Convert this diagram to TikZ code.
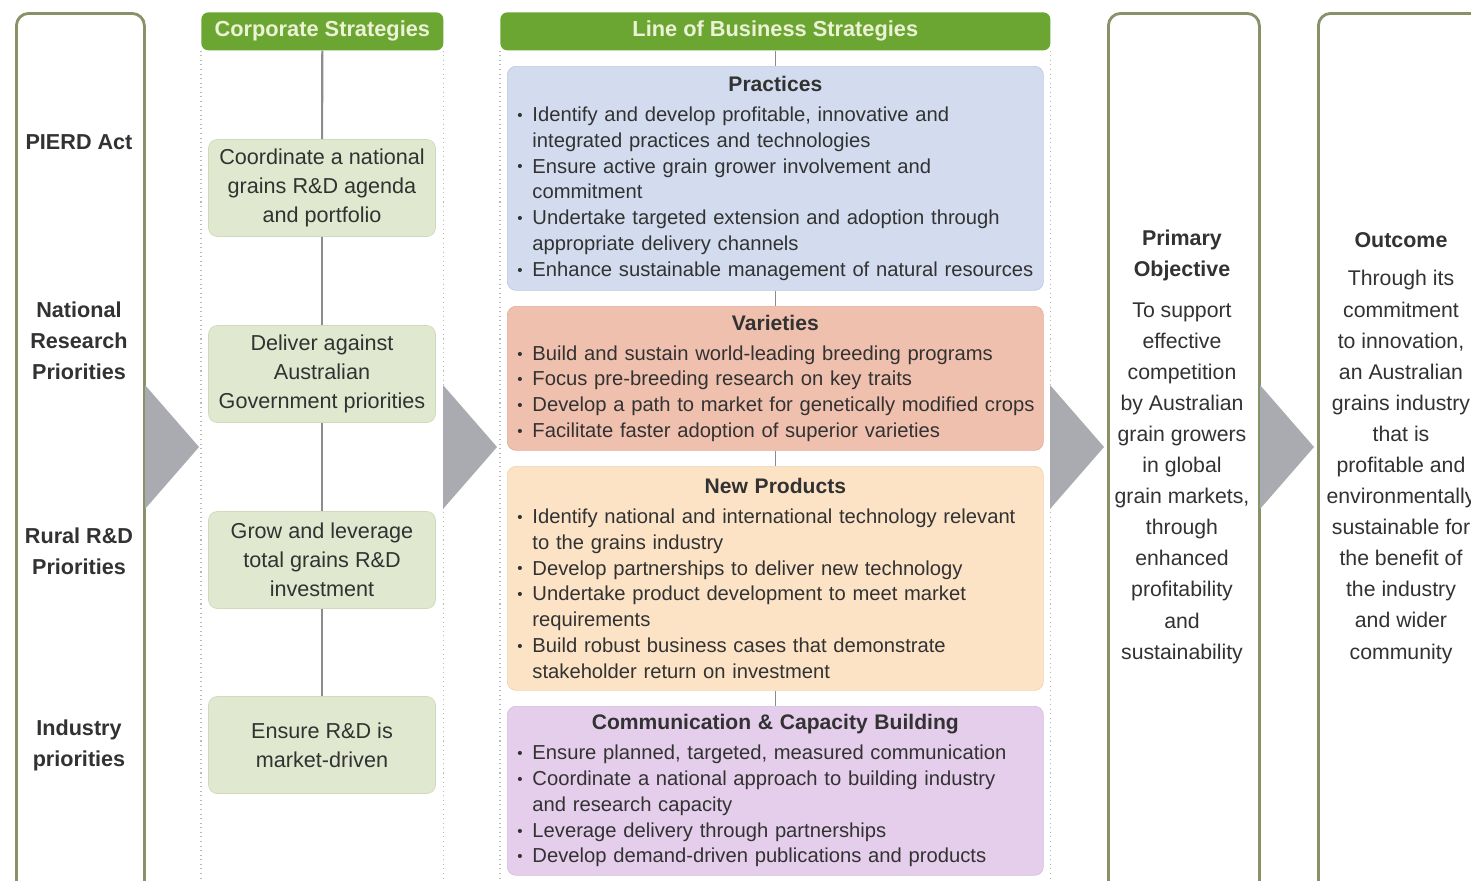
\documentclass[tikz,border=0pt]{standalone}
\usepackage{fontspec}
\setmainfont{Liberation Sans}
\usepackage{graphicx}
\usetikzlibrary{positioning}

\definecolor{framecol}{RGB}{135,146,104}
\definecolor{headgreen}{RGB}{108,166,50}
\definecolor{headtext}{RGB}{236,242,214}
\definecolor{corpfill}{RGB}{224,233,208}
\definecolor{corpdraw}{RGB}{206,219,186}
\definecolor{pracfill}{RGB}{210,220,238}
\definecolor{pracdraw}{RGB}{190,201,224}
\definecolor{varfill}{RGB}{240,192,174}
\definecolor{vardraw}{RGB}{226,174,156}
\definecolor{prodfill}{RGB}{252,227,198}
\definecolor{proddraw}{RGB}{240,212,180}
\definecolor{commfill}{RGB}{229,206,235}
\definecolor{commdraw}{RGB}{214,190,222}
\definecolor{chevgrey}{RGB}{170,171,176}
\definecolor{linegrey}{RGB}{140,140,140}
\definecolor{txt}{RGB}{50,50,50}

\def\px{0.02cm}
\newcommand{\itm}[2][]{\par\noindent\hangindent=8.6pt\hangafter=1\makebox[8.6pt][l]{\raisebox{0.1ex}{\scalebox{0.75}{\textbullet}}}\mbox{#2}\ifx\relax#1\relax\else\hfil\break\mbox{#1}\fi}
\newcommand{\hd}[1]{{\centering\bfseries\fontsize{12}{14.7}\selectfont #1\par}\vspace{2.3pt}}

\begin{document}
\begin{tikzpicture}[x=0.02cm, y=-0.02cm,
    colframe/.style={draw=framecol, line width=1.6pt, rounded corners=7pt, fill=white, anchor=north west, inner sep=0pt, minimum height=900*\px},
    hdr/.style={fill=headgreen, rounded corners=4pt, anchor=north west, inner sep=0pt, minimum height=38*\px, text=headtext, font=\bfseries\fontsize{12.4}{15}\selectfont},
    sidetxt/.style={align=center, text=txt, font=\bfseries\fontsize{12.3}{17.6}\selectfont},
    cbox/.style={fill=corpfill, draw=corpdraw, rounded corners=5pt, minimum width=227*\px, minimum height=97*\px, align=center, text=txt, font=\fontsize{12.3}{16.4}\selectfont},
    lbox/.style={rounded corners=5pt, anchor=north west, text width=516*\px, inner xsep=10*\px, inner ysep=0pt, text=txt, font=\fontsize{11.5}{14.7}\selectfont\raggedright},
    objhd/.style={align=center, text=txt, font=\bfseries\fontsize{12.2}{17.7}\selectfont},
    objtxt/.style={align=center, text=txt, font=\fontsize{12.1}{17.7}\selectfont},
    colline/.style={gray!55, dotted, line width=0.6pt},
    conn/.style={linegrey, line width=1.2pt},
    chev/.style={fill=chevgrey}]
  \useasboundingbox (0,0) rectangle (1471,880);
  \fill[white] (0,0) rectangle (1471,880);
  \clip (0,0) rectangle (1471,880);

  \node[colframe, minimum width=128*\px] (drivers) at (15,12) {};
  \node[sidetxt] (pierd) at (79,142) {PIERD Act};
  \node[sidetxt] (nrp) at (79,341) {National\\Research\\Priorities};
  \node[sidetxt] (rural) at (79,551) {Rural R\&D\\Priorities};
  \node[sidetxt] (industry) at (79,745) {Industry\\priorities};

  \node[hdr, minimum width=242*\px] (hcorp) at (201,12) {Corporate Strategies};
  \draw[colline] (hcorp.south west) -- ++(0,850);
  \draw[colline] (hcorp.south east) -- ++(0,850);
  \node[cbox] (c1) at (322,188) {Coordinate a national\\grains R\&D agenda\\and portfolio};
  \node[cbox] (c2) at (322,374) {Deliver against\\Australian\\Government priorities};
  \node[cbox] (c3) at (322,560) {Grow and leverage\\total grains R\&D\\investment};
  \node[cbox] (c4) at (322,745) {Ensure R\&D is\\market-driven};
  \path[conn]
    (hcorp) edge (c1)
    (c1) edge (c2)
    (c2) edge (c3)
    (c3) edge (c4);

  \node[hdr, minimum width=550*\px] (hlob) at (500,12) {Line of Business Strategies};
  \draw[colline] (hlob.south west) -- ++(0,850);
  \draw[colline] (hlob.south east) -- ++(0,850);
  \node[lbox, fill=pracfill, draw=pracdraw, minimum height=224*\px] (prac) at (507,66) {\hd{Practices}
    \itm[integrated practices and technologies]{Identify and develop profitable, innovative and}
    \itm[commitment]{Ensure active grain grower involvement and}
    \itm[appropriate delivery channels]{Undertake targeted extension and adoption through}
    \itm{Enhance sustainable management of natural resources}\par};
  \node[lbox, fill=varfill, draw=vardraw, minimum height=144*\px] (var) at (507,306) {\hd{Varieties}
    \itm{Build and sustain world-leading breeding programs}
    \itm{Focus pre-breeding research on key traits}
    \itm{Develop a path to market for genetically modified crops}
    \itm{Facilitate faster adoption of superior varieties}\par};
  \node[lbox, fill=prodfill, draw=proddraw, minimum height=224*\px] (prod) at (507,466) {\hd{New Products}
    \itm[to the grains industry]{Identify national and international technology relevant}
    \itm{Develop partnerships to deliver new technology}
    \itm[requirements]{Undertake product development to meet market}
    \itm[stakeholder return on investment]{Build robust business cases that demonstrate}\par};
  \node[lbox, fill=commfill, draw=commdraw, minimum height=169*\px] (comm) at (507,706) {\hd{Communication \& Capacity Building}
    \itm{Ensure planned, targeted, measured communication}
    \itm[and research capacity]{Coordinate a national approach to building industry}
    \itm{Leverage delivery through partnerships}
    \itm{Develop demand-driven publications and products}\par};
  \path[conn, line width=0.8pt]
    (hlob) edge (prac)
    (prac) edge (var)
    (var) edge (prod)
    (prod) edge (comm);

  \node[colframe, minimum width=151*\px] (objective) at (1107,12) {};
  \node[objhd] (objtitle) at (1182,255) {Primary\\Objective};
  \node[objtxt] (objbody) at (1182,483) {To support\\effective\\competition\\by Australian\\grain growers\\in global\\grain markets,\\through\\enhanced\\profitability\\and\\sustainability};

  \node[colframe, minimum width=175*\px] (outcome) at (1317,12) {};
  \node[objhd] (outtitle) at (1401,240) {Outcome};
  \node[objtxt] (outbody) at (1401,467) {Through its\\commitment\\to innovation,\\an Australian\\grains industry\\that is\\profitable and\\environmentally\\sustainable for\\the benefit of\\the industry\\and wider\\community};

  \foreach \x in {145,443,1050,1260}
    \fill[chev] (\x,385) -- ++(54,62) -- ++(-54,62) -- cycle;
\end{tikzpicture}
\end{document}
